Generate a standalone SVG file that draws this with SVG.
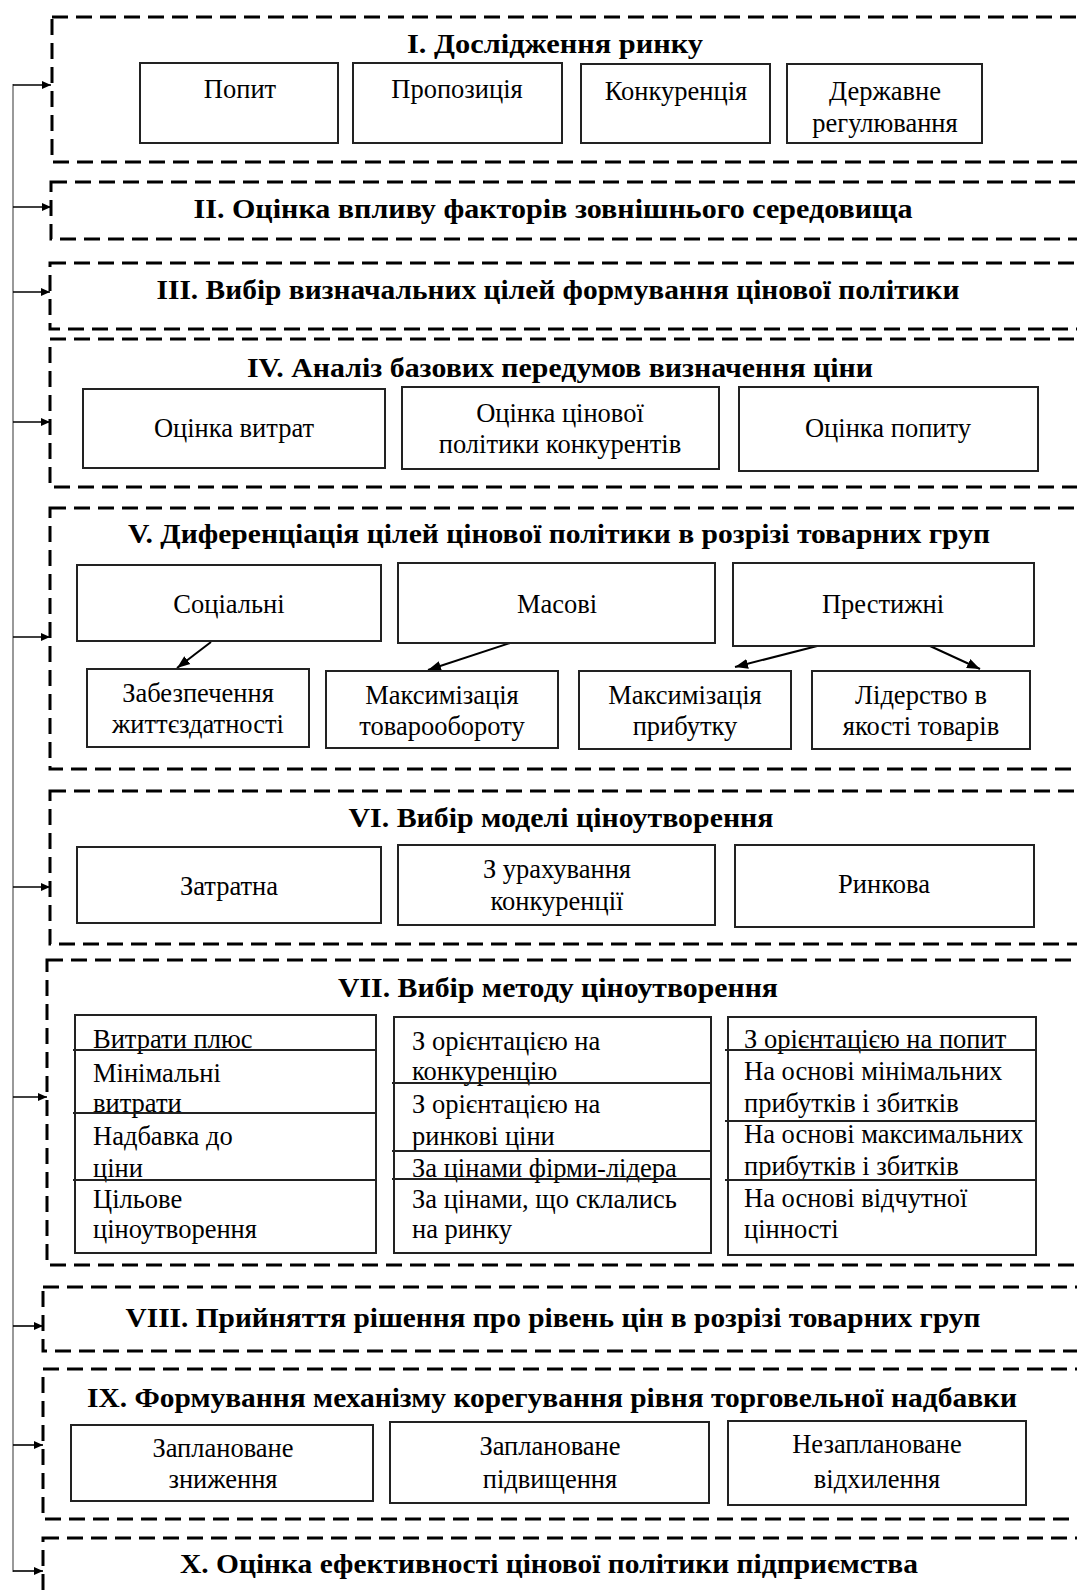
<svg xmlns="http://www.w3.org/2000/svg" width="1077" height="1596" viewBox="0 0 1077 1596">
<defs>
<marker id="ah" markerWidth="10" markerHeight="10" refX="9" refY="5" orient="auto" markerUnits="userSpaceOnUse">
<path d="M0,1 L9,5 L0,9 Z" fill="#000"/>
</marker>
<marker id="ah2" markerWidth="14" markerHeight="12" refX="13" refY="6" orient="auto" markerUnits="userSpaceOnUse">
<path d="M0,1 L13,6 L0,11 Z" fill="#000"/>
</marker>
<style>
.dash{fill:none;stroke:#000;stroke-width:3;stroke-dasharray:16 8}
.box{fill:#fff;stroke:#222;stroke-width:2}
.sep{stroke:#222;stroke-width:2}
.title{font-family:"Liberation Serif","Times New Roman",serif;font-weight:bold;font-size:28px;fill:#000;text-anchor:middle}
.t{font-family:"Liberation Serif","Times New Roman",serif;font-size:26.5px;fill:#000;text-anchor:middle}
.tl{font-family:"Liberation Serif","Times New Roman",serif;font-size:26.5px;fill:#000}
.rail{stroke:#999;stroke-width:2;fill:none}
.arr{stroke:#000;stroke-width:1.6;fill:none;marker-end:url(#ah)}
.carr{stroke:#000;stroke-width:2;fill:none;marker-end:url(#ah2)}
</style>
</defs>
<rect width="1077" height="1596" fill="#fff"/>

<g id="connectors">
<line class="rail" x1="13" y1="84" x2="13" y2="1572"/>
<line class="arr" x1="13" y1="85" x2="51" y2="85"/>
<line class="arr" x1="13" y1="207" x2="51" y2="207"/>
<line class="arr" x1="13" y1="292" x2="50" y2="292"/>
<line class="arr" x1="13" y1="422" x2="50" y2="422"/>
<line class="arr" x1="13" y1="637" x2="50" y2="637"/>
<line class="arr" x1="13" y1="887" x2="50" y2="887"/>
<line class="arr" x1="13" y1="1097" x2="47" y2="1097"/>
<line class="arr" x1="13" y1="1326" x2="43" y2="1326"/>
<line class="arr" x1="13" y1="1445" x2="43" y2="1445"/>
<line class="arr" x1="13" y1="1571" x2="43" y2="1571"/>
<line class="carr" x1="211" y1="642" x2="177" y2="668"/>
<line class="carr" x1="513" y1="642" x2="428" y2="670"/>
<line class="carr" x1="825" y1="644" x2="735" y2="667"/>
<line class="carr" x1="930" y1="646" x2="980" y2="669"/>
</g>

<g id="stage1">
<rect class="dash" x="52" y="17" width="1040" height="145"/>
<text class="title" x="555" y="53" textLength="296" lengthAdjust="spacingAndGlyphs">I. Дослідження ринку</text>
<g id="n1a"><rect class="box" x="140" y="63" width="198" height="80"/><text class="t" x="240" y="98">Попит</text></g>
<g id="n1b"><rect class="box" x="353" y="63" width="209" height="80"/><text class="t" x="457" y="98">Пропозиція</text></g>
<g id="n1c"><rect class="box" x="581" y="64" width="189" height="79"/><text class="t" x="676" y="100">Конкуренція</text></g>
<g id="n1d"><rect class="box" x="787" y="64" width="195" height="79"/><text class="t" x="885" y="100">Державне</text><text class="t" x="885" y="132">регулювання</text></g>
</g>

<g id="stage2">
<rect class="dash" x="51" y="182" width="1040" height="57"/>
<text class="title" x="553" y="218" textLength="719" lengthAdjust="spacingAndGlyphs">II. Оцінка впливу факторів зовнішнього середовища</text>
</g>

<g id="stage3">
<rect class="dash" x="50" y="263" width="1040" height="66"/>
<text class="title" x="558" y="299" textLength="803" lengthAdjust="spacingAndGlyphs">III. Вибір визначальних цілей формування цінової політики</text>
</g>

<g id="stage4">
<rect class="dash" x="50" y="339" width="1040" height="148"/>
<text class="title" x="560" y="377" textLength="626" lengthAdjust="spacingAndGlyphs">IV. Аналіз базових передумов визначення ціни</text>
<g id="n4a"><rect class="box" x="83" y="389" width="302" height="79"/><text class="t" x="234" y="437">Оцінка витрат</text></g>
<g id="n4b"><rect class="box" x="402" y="387" width="317" height="82"/><text class="t" x="560" y="422">Оцінка цінової</text><text class="t" x="560" y="453">політики конкурентів</text></g>
<g id="n4c"><rect class="box" x="739" y="387" width="299" height="84"/><text class="t" x="888" y="437">Оцінка попиту</text></g>
</g>

<g id="stage5">
<rect class="dash" x="50" y="508" width="1040" height="261"/>
<text class="title" x="559" y="543" textLength="862" lengthAdjust="spacingAndGlyphs">V. Диференціація цілей цінової політики в розрізі товарних груп</text>
<g id="n5a"><rect class="box" x="77" y="565" width="304" height="76"/><text class="t" x="229" y="613">Соціальні</text></g>
<g id="n5b"><rect class="box" x="398" y="563" width="317" height="80"/><text class="t" x="557" y="613">Масові</text></g>
<g id="n5c"><rect class="box" x="733" y="563" width="301" height="83"/><text class="t" x="883" y="613">Престижні</text></g>
<g id="n5d"><rect class="box" x="87" y="669" width="222" height="78"/><text class="t" x="198" y="702">Забезпечення</text><text class="t" x="198" y="733">життєздатності</text></g>
<g id="n5e"><rect class="box" x="326" y="671" width="232" height="77"/><text class="t" x="442" y="704">Максимізація</text><text class="t" x="442" y="735">товарообороту</text></g>
<g id="n5f"><rect class="box" x="579" y="671" width="212" height="78"/><text class="t" x="685" y="704">Максимізація</text><text class="t" x="685" y="735">прибутку</text></g>
<g id="n5g"><rect class="box" x="812" y="671" width="218" height="78"/><text class="t" x="921" y="704">Лідерство в</text><text class="t" x="921" y="735">якості товарів</text></g>
</g>

<g id="stage6">
<rect class="dash" x="50" y="791" width="1040" height="153"/>
<text class="title" x="561" y="827" textLength="425" lengthAdjust="spacingAndGlyphs">VI. Вибір моделі ціноутворення</text>
<g id="n6a"><rect class="box" x="77" y="847" width="304" height="76"/><text class="t" x="229" y="895">Затратна</text></g>
<g id="n6b"><rect class="box" x="398" y="845" width="317" height="80"/><text class="t" x="557" y="878">З урахування</text><text class="t" x="557" y="910">конкуренції</text></g>
<g id="n6c"><rect class="box" x="735" y="845" width="299" height="82"/><text class="t" x="884" y="893">Ринкова</text></g>
</g>

<g id="stage7">
<rect class="dash" x="47" y="960" width="1045" height="305"/>
<text class="title" x="558" y="997" textLength="440" lengthAdjust="spacingAndGlyphs">VII. Вибір методу ціноутворення</text>
<g id="n7a">
<rect class="box" x="75" y="1015" width="301" height="238"/>
<text class="tl" x="93" y="1048">Витрати плюс</text>
<text class="tl" x="93" y="1082">Мінімальні</text>
<text class="tl" x="93" y="1112">витрати</text>
<text class="tl" x="93" y="1145">Надбавка до</text>
<text class="tl" x="93" y="1177">ціни</text>
<text class="tl" x="93" y="1208">Цільове</text>
<text class="tl" x="93" y="1238">ціноутворення</text>
<line class="sep" x1="73" y1="1050" x2="376" y2="1050"/>
<line class="sep" x1="73" y1="1113" x2="376" y2="1113"/>
<line class="sep" x1="73" y1="1180" x2="376" y2="1180"/>
</g>
<g id="n7b">
<rect class="box" x="394" y="1017" width="317" height="236"/>
<text class="tl" x="412" y="1050">З орієнтацією на</text>
<text class="tl" x="412" y="1080">конкуренцію</text>
<text class="tl" x="412" y="1113">З орієнтацією на</text>
<text class="tl" x="412" y="1145">ринкові ціни</text>
<text class="tl" x="412" y="1177">За цінами фірми-лідера</text>
<text class="tl" x="412" y="1208">За цінами, що склались</text>
<text class="tl" x="412" y="1238">на ринку</text>
<line class="sep" x1="392" y1="1083" x2="711" y2="1083"/>
<line class="sep" x1="392" y1="1151" x2="711" y2="1151"/>
<line class="sep" x1="392" y1="1179" x2="711" y2="1179"/>
</g>
<g id="n7c">
<rect class="box" x="728" y="1017" width="308" height="238"/>
<text class="tl" x="744" y="1048">З орієнтацією на попит</text>
<text class="tl" x="744" y="1080">На основі мінімальних</text>
<text class="tl" x="744" y="1112">прибутків і збитків</text>
<text class="tl" x="744" y="1143">На основі максимальних</text>
<text class="tl" x="744" y="1175">прибутків і збитків</text>
<text class="tl" x="744" y="1207">На основі відчутної</text>
<text class="tl" x="744" y="1238">цінності</text>
<line class="sep" x1="725" y1="1050" x2="1036" y2="1050"/>
<line class="sep" x1="725" y1="1121" x2="1036" y2="1121"/>
<line class="sep" x1="725" y1="1180" x2="1036" y2="1180"/>
</g>
</g>

<g id="stage8">
<rect class="dash" x="43" y="1287" width="1050" height="64"/>
<text class="title" x="553" y="1327" textLength="855" lengthAdjust="spacingAndGlyphs">VIII. Прийняття рішення про рівень цін в розрізі товарних груп</text>
</g>

<g id="stage9">
<rect class="dash" x="43" y="1369" width="1050" height="150"/>
<text class="title" x="552" y="1407" textLength="930" lengthAdjust="spacingAndGlyphs">IX. Формування механізму корегування рівня торговельної надбавки</text>
<g id="n9a"><rect class="box" x="71" y="1425" width="302" height="76"/><text class="t" x="223" y="1457">Заплановане</text><text class="t" x="223" y="1488">зниження</text></g>
<g id="n9b"><rect class="box" x="390" y="1422" width="319" height="81"/><text class="t" x="550" y="1455">Заплановане</text><text class="t" x="550" y="1488">підвищення</text></g>
<g id="n9c"><rect class="box" x="728" y="1421" width="298" height="84"/><text class="t" x="877" y="1453">Незаплановане</text><text class="t" x="877" y="1488">відхилення</text></g>
</g>

<g id="stage10">
<rect class="dash" x="43" y="1538" width="1050" height="80"/>
<text class="title" x="549" y="1573" textLength="738" lengthAdjust="spacingAndGlyphs">X. Оцінка ефективності цінової політики підприємства</text>
</g>
</svg>
